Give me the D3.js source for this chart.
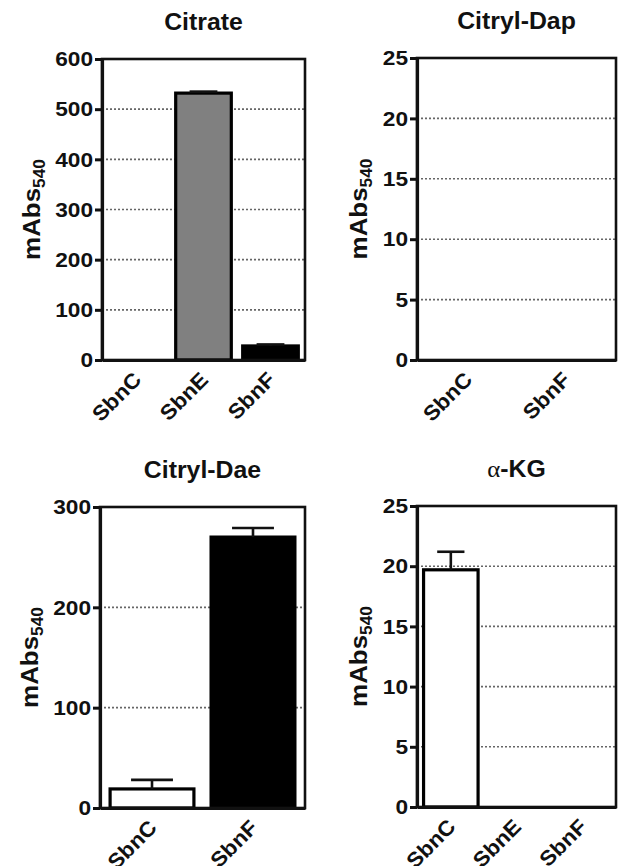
<!DOCTYPE html>
<html>
<head>
<meta charset="utf-8">
<title>mAbs540 by substrate</title>
<script src="https://cdn.jsdelivr.net/npm/d3@7"></script>
<style>
  body { margin: 0; background: #fff; }
  svg text { font-family: "Liberation Sans", Arial, Helvetica, sans-serif; font-weight: bold; fill: #111; }
</style>
</head>
<body>
<div id="chart"></div>
<script>
// ---- data ----
var citrateCats = ["SbnC", "SbnE", "SbnF"];
var citrateVals = [0, 532, 28];
var citrateErrs = [0, 3, 3];
var citrateTicks = [0, 100, 200, 300, 400, 500, 600];

var dapCats = ["SbnC", "SbnF"];
var dapVals = [0, 0];
var dapErrs = [0, 0];
var dapTicks = [0, 5, 10, 15, 20, 25];

var daeCats = ["SbnC", "SbnF"];
var daeVals = [19, 270];
var daeErrs = [9, 9];
var daeTicks = [0, 100, 200, 300];

var kgCats = ["SbnC", "SbnE", "SbnF"];
var kgVals = [19.7, 0, 0];
var kgErrs = [1.5, 0, 0];
var kgTicks = [0, 5, 10, 15, 20, 25];

// bar fill per enzyme
var fillOf = { SbnC: "#ffffff", SbnE: "#808080", SbnF: "#000000" };

var SX = 1.08; // the original lettering is a bit wider than Arial

var svg = d3.select("#chart").append("svg")
  .attr("width", 619)
  .attr("height", 866);

// plot boxes, in page pixels
var panels = [
  { title: "Citrate",    cats: citrateCats, vals: citrateVals, errs: citrateErrs, ticks: citrateTicks,
    x0: 102, x1: 305, y0: 59,  y1: 360, labelOff: 62 },
  { title: "Citryl-Dap", cats: dapCats, vals: dapVals, errs: dapErrs, ticks: dapTicks,
    x0: 417, x1: 616, y0: 58,  y1: 360, labelOff: 50 },
  { title: "Citryl-Dae", cats: daeCats, vals: daeVals, errs: daeErrs, ticks: daeTicks,
    x0: 100, x1: 305, y0: 507, y1: 808, labelOff: 62 },
  { title: "-KG", alpha: true, cats: kgCats, vals: kgVals, errs: kgErrs, ticks: kgTicks,
    x0: 417, x1: 616, y0: 506, y1: 807, labelOff: 50 }
];

panels.forEach(drawPanel);

function drawPanel(p) {
  var g = svg.append("g");
  var yMax = d3.max(p.ticks);

  var x = d3.scaleBand()
    .domain(p.cats)
    .range([p.x0, p.x1])
    .paddingInner(0.17)
    .paddingOuter(0.1);

  var y = d3.scaleLinear()
    .domain([0, yMax])
    .range([p.y1, p.y0]);

  var rows = p.cats.map(function(c, i) { return { cat: c, v: p.vals[i], e: p.errs[i] }; });

  // dotted grid (not at 0 or at the top)
  g.append("g").selectAll("line")
    .data(p.ticks.filter(function(t) { return t > 0 && t < yMax; }))
    .enter().append("line")
    .attr("x1", p.x0).attr("x2", p.x1)
    .attr("y1", function(d) { return y(d); })
    .attr("y2", function(d) { return y(d); })
    .attr("stroke", "#666")
    .attr("stroke-width", 1.6)
    .attr("stroke-dasharray", "2,2");

  // bars
  g.append("g").selectAll("rect")
    .data(rows.filter(function(d) { return d.v > 0; }))
    .enter().append("rect")
    .attr("x", function(d) { return x(d.cat); })
    .attr("width", x.bandwidth())
    .attr("y", function(d) { return y(d.v); })
    .attr("height", function(d) { return y(0) - y(d.v); })
    .attr("fill", function(d) { return fillOf[d.cat]; })
    .attr("stroke", "#000")
    .attr("stroke-width", 3.2);

  // error bars, upper half only
  var eb = g.append("g").selectAll("g")
    .data(rows.filter(function(d) { return d.e > 0; }))
    .enter().append("g")
    .attr("stroke", "#111")
    .attr("stroke-width", 2.6);
  eb.append("line")
    .attr("x1", function(d) { return x(d.cat) + x.bandwidth() / 2; })
    .attr("x2", function(d) { return x(d.cat) + x.bandwidth() / 2; })
    .attr("y1", function(d) { return y(d.v); })
    .attr("y2", function(d) { return y(d.v + d.e); });
  eb.append("line")
    .attr("x1", function(d) { return x(d.cat) + x.bandwidth() / 4; })
    .attr("x2", function(d) { return x(d.cat) + x.bandwidth() * 3 / 4; })
    .attr("y1", function(d) { return y(d.v + d.e); })
    .attr("y2", function(d) { return y(d.v + d.e); });

  // frame
  g.append("rect")
    .attr("x", p.x0).attr("y", p.y0)
    .attr("width", p.x1 - p.x0).attr("height", p.y1 - p.y0)
    .attr("fill", "none")
    .attr("stroke", "#111")
    .attr("stroke-width", 2.6);

  // y axis
  var ya = g.append("g")
    .attr("transform", "translate(" + p.x0 + ",0)")
    .call(d3.axisLeft(y).tickValues(p.ticks).tickSize(7).tickSizeOuter(0).tickPadding(2));
  ya.select(".domain").attr("stroke", "#111").attr("stroke-width", 3.2);
  ya.selectAll(".tick line").attr("stroke", "#111").attr("stroke-width", 3);
  ya.selectAll(".tick text")
    .attr("x", -9 / SX)
    .attr("transform", "scale(" + SX + ",1)")
    .style("font-size", "21px");

  // x axis
  var xa = g.append("g")
    .attr("transform", "translate(0," + p.y1 + ")")
    .call(d3.axisBottom(x).tickSize(0).tickSizeOuter(0));
  xa.select(".domain").attr("stroke", "#111").attr("stroke-width", 3.2);
  xa.selectAll(".tick text")
    .attr("x", 0).attr("y", 0).attr("dy", null)
    .attr("transform", "translate(6,21) rotate(-45) scale(" + SX + ",1)")
    .style("text-anchor", "end")
    .style("font-size", "21px");

  // title
  var cx = (p.x0 + p.x1) / 2;
  var t = g.append("text")
    .attr("transform", "translate(" + cx + "," + (p.y0 - 29) + ") scale(" + SX + ",1)")
    .attr("text-anchor", "middle")
    .style("font-size", "23px");
  if (p.alpha) {
    t.append("tspan")
      .style("font-family", "'Liberation Serif', 'Times New Roman', serif")
      .style("font-weight", "normal")
      .text("\u03B1");
  }
  t.append("tspan").text(p.title);

  // y label: mAbs540
  var lab = g.append("text")
    .attr("transform", "translate(" + (p.x0 - p.labelOff) + "," + ((p.y0 + p.y1) / 2) + ") rotate(-90) scale(" + SX + ",1)")
    .attr("text-anchor", "middle")
    .style("font-size", "24px");
  lab.append("tspan").text("mAbs");
  lab.append("tspan").attr("dy", "0.3em").style("font-size", "16px").text("540");
}
</script>
</body>
</html>
